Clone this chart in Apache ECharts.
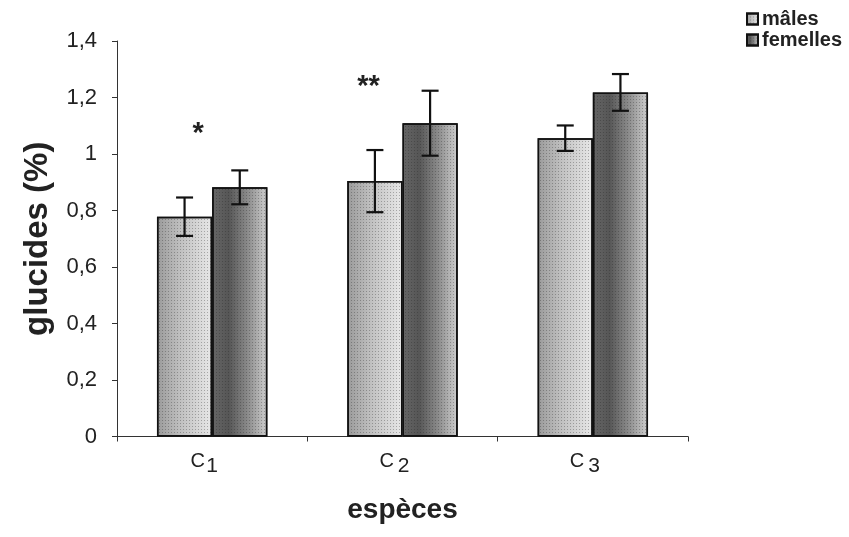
<!DOCTYPE html>
<html>
<head>
<meta charset="utf-8">
<script src="https://cdn.jsdelivr.net/npm/echarts@6/dist/echarts.min.js"></script>
<style>
  html, body { margin: 0; padding: 0; background: #ffffff; }
  #chart { width: 849px; height: 537px; }
</style>
</head>
<body>
<div id="chart"></div>
<script>
// Carbohydrate content (%) per species, males vs females (mean ± error)
const categories = ['C1', 'C2', 'C3'];
const categoryLetter = ['C', 'C', 'C'];
const categorySpacer = ['', ' ', ' '];
const categoryIndex = ['1', '2', '3'];

const seriesNames = ['mâles', 'femelles'];
const malesMean = [0.778, 0.904, 1.056];
const malesErr = [0.068, 0.110, 0.045];
const femellesMean = [0.882, 1.109, 1.218];
const femellesErr = [0.060, 0.115, 0.065];

// significance marks between sexes
const sigCategory = [0, 1];
const sigText = ['*', '**'];
const sigLevel = [1.07, 1.237];

const yMin = 0, yMax = 1.4, yStep = 0.2;

const FONT = '"Liberation Sans", Arial, sans-serif';
const BAR_GAP_CAT = 0.42;
const sigShiftX = [-14, -34];

const chart = echarts.init(document.getElementById('chart'), null, { renderer: 'canvas' });

const maleFill = new echarts.graphic.LinearGradient(0, 0, 1, 0, [
  { offset: 0, color: '#9a9a9a' },
  { offset: 0.45, color: '#c2c2c2' },
  { offset: 1, color: '#e8e8e8' }
]);
const femaleFill = new echarts.graphic.LinearGradient(0, 0, 1, 0, [
  { offset: 0, color: '#666666' },
  { offset: 0.3, color: '#565656' },
  { offset: 0.65, color: '#8c8c8c' },
  { offset: 1, color: '#d0d0d0' }
]);
const dots = {
  symbol: 'rect', symbolSize: 1,
  dashArrayX: [1, 2], dashArrayY: [1, 2],
  color: 'rgba(30,30,30,0.3)', rotation: 0
};

function errorBarSeries(means, errs, side) {
  return {
    type: 'custom',
    silent: true,
    z: 5,
    encode: { x: 0, y: 1 },
    data: means.map((m, i) => [i, m, errs[i]]),
    renderItem: function (params, api) {
      const idx = api.value(0);
      const mean = api.value(1);
      const err = api.value(2);
      const band = api.size([1, 0])[0];
      const bw = band * (1 - BAR_GAP_CAT) / 2;
      const cx = api.coord([idx, 0])[0] + side * bw / 2;
      const yTop = api.coord([idx, mean + err])[1];
      const yBot = api.coord([idx, mean - err])[1];
      const cap = 8.5;
      const st = { stroke: '#111', lineWidth: 2.2 };
      return {
        type: 'group',
        children: [
          { type: 'line', shape: { x1: cx, y1: yTop, x2: cx, y2: yBot }, style: st },
          { type: 'line', shape: { x1: cx - cap, y1: yTop, x2: cx + cap, y2: yTop }, style: st },
          { type: 'line', shape: { x1: cx - cap, y1: yBot, x2: cx + cap, y2: yBot }, style: st }
        ]
      };
    }
  };
}

const option = {
  backgroundColor: '#ffffff',
  animation: false,
  textStyle: { fontFamily: FONT },
  grid: { left: 117, right: 161, top: 41, bottom: 100.5, containLabel: false },
  legend: {
    orient: 'vertical',
    left: 741, top: 4,
    itemWidth: 11, itemHeight: 11, itemGap: 1,
    icon: 'rect',
    data: seriesNames,
    textStyle: { fontFamily: FONT, fontSize: 20, fontWeight: 'bold', color: '#222', padding: [0, 0, 0, -1] }
  },
  xAxis: {
    type: 'category',
    data: categories,
    name: 'espèces',
    nameLocation: 'middle',
    nameGap: 60,
    nameTextStyle: { fontFamily: FONT, fontSize: 28, fontWeight: 'bold', color: '#222', verticalAlign: 'top' },
    axisLine: { lineStyle: { color: '#333', width: 1 } },
    axisTick: { show: true, length: 5, lineStyle: { color: '#333' } },
    axisLabel: {
      margin: 15,
      padding: [0, 16, 0, 0],
      formatter: function (v, i) {
        return '{c|' + categoryLetter[i] + '}{g|' + (categorySpacer[i] || '\u200a') + '}{s|' + categoryIndex[i] + '}';
      },
      rich: {
        c: { fontFamily: FONT, fontSize: 20, color: '#222', lineHeight: 18, verticalAlign: 'top' },
        g: { fontFamily: FONT, fontSize: 14, color: '#222', lineHeight: 25 },
        s: { fontFamily: FONT, fontSize: 21, color: '#222', lineHeight: 18, verticalAlign: 'bottom' }
      }
    }
  },
  yAxis: {
    type: 'value',
    min: yMin, max: yMax, interval: yStep,
    name: 'glucides (%)',
    nameLocation: 'middle',
    nameGap: 63,
    nameTextStyle: { fontFamily: FONT, fontSize: 33, fontWeight: 'bold', color: '#222' },
    axisLine: { show: true, lineStyle: { color: '#333', width: 1 } },
    axisTick: { show: true, length: 5, lineStyle: { color: '#333' } },
    splitLine: { show: false },
    axisLabel: {
      margin: 20,
      fontFamily: FONT, fontSize: 22, color: '#222',
      formatter: function (v) { return String(+v.toFixed(1)).replace('.', ','); }
    }
  },
  series: [
    {
      name: seriesNames[0],
      type: 'bar',
      data: malesMean,
      barGap: '0%',
      barCategoryGap: (BAR_GAP_CAT * 100) + '%',
      itemStyle: { color: maleFill, borderColor: '#111', borderWidth: 1.5, decal: dots }
    },
    {
      name: seriesNames[1],
      type: 'bar',
      data: femellesMean,
      barGap: '0%',
      barCategoryGap: (BAR_GAP_CAT * 100) + '%',
      itemStyle: { color: femaleFill, borderColor: '#111', borderWidth: 1.5, decal: dots }
    },
    errorBarSeries(malesMean, malesErr, -1),
    errorBarSeries(femellesMean, femellesErr, 1),
    {
      type: 'custom',
      silent: true,
      z: 6,
      encode: { x: 0, y: 1 },
      data: sigCategory.map((c, i) => [c, sigLevel[i], i]),
      renderItem: function (params, api) {
        const k = api.value(2);
        const p = api.coord([api.value(0), api.value(1)]);
        return {
          type: 'text',
          style: {
            x: p[0] + sigShiftX[k], y: p[1],
            text: sigText[k],
            align: 'center', verticalAlign: 'middle',
            font: 'bold 29px ' + FONT,
            fill: '#222'
          }
        };
      }
    }
  ]
};

chart.setOption(option);
</script>
</body>
</html>
